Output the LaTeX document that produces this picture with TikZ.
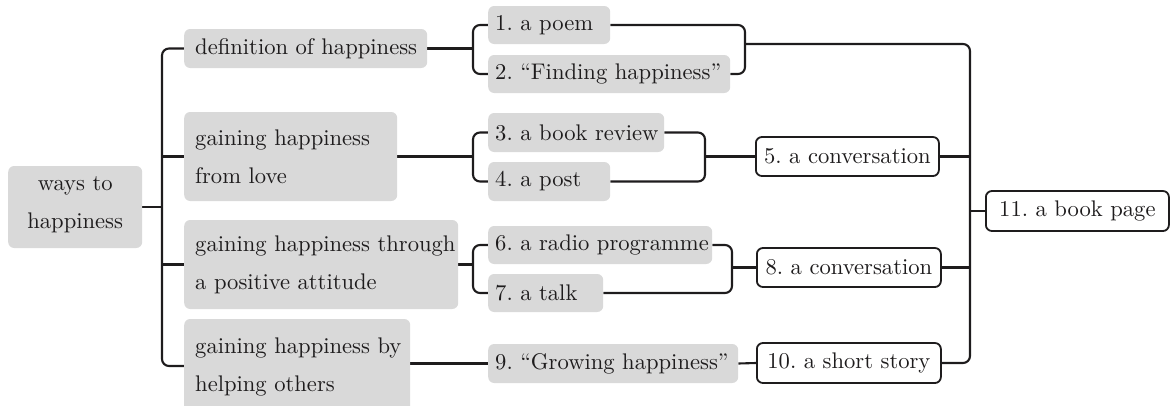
\documentclass[tikz,border=0pt]{standalone}
\usepackage{fontspec}
\setmainfont{lmroman10-regular}[Extension=.otf]
\usetikzlibrary{backgrounds}
\definecolor{boxgray}{HTML}{D9D9D9}
\definecolor{ink}{HTML}{1E1C1D}
\newcommand\fsz{\fontsize{22.6}{38}\selectfont\frenchspacing}
\begin{document}
\begin{tikzpicture}[x=1pt,y=-1pt,
  gbox/.style={fill=boxgray, rounded corners=6pt, inner sep=0pt, anchor=west},
  wbox/.style={draw=ink, fill=white, line width=1.8pt, rounded corners=6pt, inner sep=0pt, anchor=west, text=ink, font=\fsz},
  txt/.style={inner sep=0pt, anchor=west, text=ink, font=\fsz, align=left},
  conn/.style={draw=ink, line width=2.1pt, rounded corners=7pt}]
\useasboundingbox (0,0) rectangle (1173,405);
\clip (0,0) rectangle (1173,405);
% grey boxes
\node[gbox, minimum width=134, minimum height=82] (ways) at (8,207) {};
\node[txt, anchor=center, align=center] (wayst) at ([yshift=2]ways.center) {ways to\\happiness};
\node[gbox, minimum width=243, minimum height=39] (def) at (184,48.5) {};
\node[txt] (deft) at ([xshift=11]def.west) {definition of happiness};
\node[gbox, minimum width=213, minimum height=89] (love) at (184,156.5) {};
\node[txt] (lovet) at ([xshift=11]love.west) {gaining happiness\\from love};
\node[gbox, minimum width=274, minimum height=89] (pos) at (184,264.5) {};
\node[txt] (post) at ([xshift=11]pos.west) {gaining happiness through\\a positive attitude};
\node[gbox, minimum width=226, minimum height=94] (help) at (184,366) {};
\node[txt] (helpt) at ([xshift=11,yshift=-1]help.west) {gaining happiness by\\helping others};
\node[gbox, minimum width=122, minimum height=38] (p1) at (488,25) {};
\node[txt] (p1t) at ([xshift=7]p1.west) {1. a poem};
\node[gbox, minimum width=242, minimum height=38] (p2) at (488,74) {};
\node[txt] (p2t) at ([xshift=7]p2.west) {2. “Finding happiness”};
\node[gbox, minimum width=176, minimum height=39] (p3) at (488,132.5) {};
\node[txt] (p3t) at ([xshift=7]p3.west) {3. a book review};
\node[gbox, minimum width=122, minimum height=39] (p4) at (488,181.5) {};
\node[txt] (p4t) at ([xshift=7]p4.west) {4. a post};
\node[gbox, minimum width=224, minimum height=38] (p6) at (488,245) {};
\node[txt] (p6t) at ([xshift=7]p6.west) {6. a radio programme};
\node[gbox, minimum width=115, minimum height=38] (p7) at (488,293) {};
\node[txt] (p7t) at ([xshift=7]p7.west) {7. a talk};
\node[gbox, minimum width=250, minimum height=39] (p9) at (488,363.5) {};
\node[txt] (p9t) at ([xshift=7]p9.west) {9. “Growing happiness”};
% white boxes
\node[wbox, minimum width=183, minimum height=39] (c5) at (755,156.5) {5. a conversation};
\node[wbox, minimum width=184, minimum height=39] (c8) at (756,267.5) {8. a conversation};
\node[wbox, minimum width=184, minimum height=40] (c10) at (756,363) {10. a short story};
\node[wbox, minimum width=183, minimum height=40] (book) at (985,211) {11. a book page};
% helper coordinates
\coordinate (lt) at (162,0);
\coordinate (b1) at (473,0);
\coordinate (r1) at (745,0);
\coordinate (r2) at (705,0);
\coordinate (r3) at (732,0);
\coordinate (mx) at (970,0);
\coordinate (m1) at (745,44);
\begin{scope}[on background layer]
\draw[conn] (ways.east) -- (ways.east -| lt);
\draw[conn] (def.west) -| (lt |- help.west) -- (help.west);
\draw[conn] (love.west) -- (love.west -| lt);
\draw[conn] (pos.west) -- (pos.west -| lt);
% branch 1
\draw[conn] (def.east) -- (def.east -| b1);
\draw[conn] (p1.west) -| (b1 |- p2.west) -- (p2.west);
\draw[conn] (p1.east) -| (r1 |- p2.east) -- (p2.east);
\draw[conn] (m1) -| (mx |- c10.east) -- (c10.east);
% branch 2
\draw[conn] (love.east) -- (love.east -| b1);
\draw[conn] (p3.west) -| (b1 |- p4.west) -- (p4.west);
\draw[conn] (p3.east) -| (r2 |- p4.east) -- (p4.east);
\draw[conn] (c5.west -| r2) -- (c5.west);
\draw[conn] (c5.east) -- (c5.east -| mx);
% branch 3
\draw[conn] (pos.east) -- (pos.east -| b1);
\draw[conn] (p6.west) -| (b1 |- p7.west) -- (p7.west);
\draw[conn] (p6.east) -| (r3 |- p7.east) -- (p7.east);
\draw[conn] (c8.west -| r3) -- (c8.west);
\draw[conn] (c8.east) -- (c8.east -| mx);
% branch 4
\draw[conn] (p9.west -| help.east) -- (p9.west);
\draw[conn] (p9.east) -- (c10.west);
\draw[conn] (book.west) -- (book.west -| mx);
\end{scope}
\end{tikzpicture}
\end{document}
